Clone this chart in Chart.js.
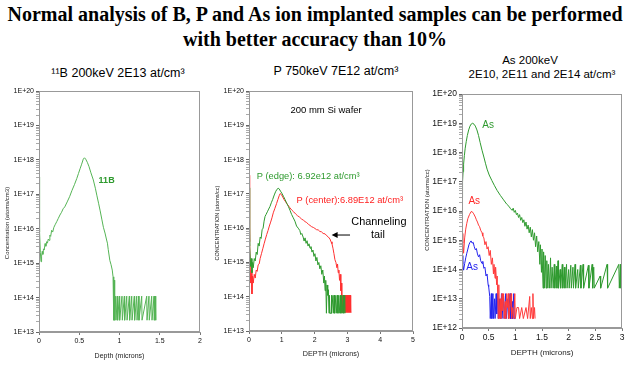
<!DOCTYPE html>
<html>
<head>
<meta charset="utf-8">
<script src="https://cdn.jsdelivr.net/npm/chart.js@4.4.1/dist/chart.umd.min.js"></script>
<style>
  html, body { margin:0; padding:0; background:#fff; }
  #page { position:relative; width:630px; height:372px; overflow:hidden; background:#fff; font-family:"Liberation Sans", Arial, sans-serif; }
  .main { position:absolute; left:0; top:2px; width:630px; text-align:center; font:bold 20px "Liberation Serif", "Times New Roman", serif; line-height:25px; color:#000; white-space:nowrap; }
  .sub { position:absolute; text-align:center; white-space:nowrap; color:#000; font-family:"Liberation Sans", Arial, sans-serif; transform:translateX(-50%); }
  canvas { position:absolute; top:60px; }
</style>
</head>
<body>
<div id="page">
  <div class="main">Normal analysis of B, P and As ion implanted samples can be performed<br>with better accuracy than 10%</div>
  <div class="sub" style="left:118px; top:66px; font-size:12.5px; line-height:15px;">¹¹B 200keV 2E13 at/cm³</div>
  <div class="sub" style="left:336px; top:64px; font-size:12.5px; line-height:15px;">P 750keV 7E12 at/cm³</div>
  <div class="sub" style="left:530px; top:53px; font-size:11.5px; line-height:14px;">As 200keV</div>
  <div class="sub" style="left:542px; top:67px; font-size:11.5px; line-height:14px;">2E10, 2E11 and 2E14 at/cm³</div>
  <canvas id="cB" width="210" height="312" style="left:0px"></canvas>
  <canvas id="cP" width="210" height="312" style="left:210px"></canvas>
  <canvas id="cAs" width="210" height="312" style="left:420px"></canvas>
</div>
<script>
// ---------- DATA (depth in microns, concentration in atoms/cm3) ----------
const bDecades = [13, 14, 15, 16, 17, 18, 19, 20];
const bYLabels = ['1E+13','1E+14','1E+15','1E+16','1E+17','1E+18','1E+19','1E+20'];
const bXLabels = ['0','0.5','1','1.5','2'];
const boron11 = [
  [0,3.2e17],[0.004,8e16],[0.01,8e15],[0.017,2e15],[0.025,1.1e15],[0.032,1.6e15],[0.04,2.2e15],[0.048,1.8e15],
  [0.056,2.6e15],[0.065,2.4e15],[0.075,3.7e15],[0.085,3.1e15],[0.095,4.2e15],[0.105,3.8e15],[0.115,5e15],[0.125,4.6e15],
  [0.135,6.5e15],[0.145,6e15],[0.157,9e15],[0.17,8e15],[0.185,1.1e16],[0.2,1.3e16],[0.22,1.6e16],[0.24,2e16],
  [0.26,2.5e16],[0.28,3e16],[0.3,3.8e16],[0.32,4.3e16],[0.35,6e16],[0.38,8.5e16],[0.41,1.3e17],[0.44,1.9e17],
  [0.47,2.9e17],[0.49,4e17],[0.51,5.5e17],[0.53,7.5e17],[0.55,1.05e18],[0.565,1.15e18],[0.58,1.05e18],[0.6,8.5e17],
  [0.62,6.5e17],[0.645,4.2e17],[0.675,2.6e17],[0.7,1.5e17],[0.72,9e16],[0.74,5.5e16],[0.76,3.3e16],[0.78,1.9e16],
  [0.8,1.1e16],[0.82,7.5e15],[0.84,4.7e15],[0.85,3.8e15],[0.86,2.5e15],[0.88,1.2e15],[0.895,9e14],[0.91,6.3e14],
  [0.92,4e14],[0.927,3.2e14],[0.93,2.2e13],[0.936,3.2e14],[0.94,2.2e13],[0.953,1.1e14],[0.957,2.2e13],[0.973,1.1e14],
  [0.977,2.2e13],[0.998,1.1e14],[1.002,2.2e13],[1.031,1.1e14],[1.035,2.2e13],[1.06,1.1e14],[1.064,2.2e13],[1.09,1.1e14],
  [1.094,2.2e13],[1.122,1.1e14],[1.126,2.2e13],[1.152,1.1e14],[1.156,2.2e13],[1.184,1.1e14],[1.188,2.2e13],[1.214,1.1e14],
  [1.218,2.2e13],[1.238,1.1e14],[1.242,2.2e13],[1.276,1.1e14],[1.28,2.2e13],[1.338,1.1e14],[1.342,2.2e13],[1.366,1.1e14],
  [1.37,2.2e13],[1.4,1.1e14],[1.404,2.2e13],[1.429,1.1e14],[1.433,2.2e13],[1.445,1.1e14],[1.45,2.2e13]
];

const pDecades = [13, 14, 15, 16, 17, 18, 19, 20];
const pYLabels = ['1E+13','1E+14','1E+15','1E+16','1E+17','1E+18','1E+19','1E+20'];
const pXLabels = ['0','1','2','3','4','5'];
const pEdge = [
  [0,1.5e17],[0.01,3e16],[0.03,3e15],[0.05,7.6e14],[0.07,1.3e15],[0.09,5e14],[0.11,1e15],[0.13,7e14],[0.16,1.3e15],
  [0.19,1.1e15],[0.22,2e15],[0.25,1.7e15],[0.28,3.6e15],[0.31,3e15],[0.34,5.5e15],[0.37,5e15],[0.4,9e15],[0.43,1e16],
  [0.46,1.6e16],[0.49,2.2e16],[0.52,2.5e16],[0.56,3e16],[0.6,3.6e16],[0.64,4.3e16],[0.68,5.5e16],[0.72,6.8e16],
  [0.77,9.3e16],[0.81,1.15e17],[0.85,1.35e17],[0.89,1.45e17],[0.92,1.4e17],[0.96,1.2e17],[1.0,1.05e17],[1.05,8.5e16],
  [1.1,6.8e16],[1.15,5.3e16],[1.2,4.3e16],[1.25,3.3e16],[1.3,2.5e16],[1.35,2e16],[1.4,1.6e16],[1.45,1.15e16],
  [1.5,1e16],[1.55,8.5e15],[1.58,6.5e15],[1.61,7e15],[1.65,5.5e15],[1.68,4.2e15],[1.71,5.2e15],[1.74,3.6e15],
  [1.77,4.3e15],[1.8,3e15],[1.83,3.5e15],[1.86,2.6e15],[1.89,2.9e15],[1.92,2e15],[1.95,2.3e15],[1.98,1.5e15],
  [2.01,1.8e15],[2.04,1.1e15],[2.07,1.4e15],[2.1,8.5e14],[2.13,1e15],[2.16,6.5e14],[2.19,8e14],[2.22,4.5e14],
  [2.25,6e14],[2.28,2.5e14],[2.3,4e14],[2.32,1.5e14],[2.34,3e14],[2.36,3.3e13],[2.38,2.2e14],[2.4,1.1e14],
  [2.42,1.6e14],[2.44,3.3e13],[2.45,1.1e14],[2.47,3.3e13],[2.5,3.3e13],[2.51,1.1e14],[2.52,3.3e13],[2.56,1.1e14],
  [2.57,3.3e13],[2.6,1.1e14],[2.61,3.3e13],[2.65,1.1e14],[2.66,3.3e13],[2.7,1.1e14],[2.71,3.3e13],[2.74,1.1e14],
  [2.75,3.3e13],[2.79,1.1e14],[2.8,3.3e13],[2.83,1.1e14],[2.84,3.3e13],[2.88,1.1e14],[2.89,3.3e13],[2.92,1.1e14],
  [2.93,3.3e13],[2.95,3.3e13]
];
const pCenter = [
  [0,3.5e17],[0.01,6e16],[0.03,4e15],[0.05,2.5e14],[0.07,6e14],[0.09,1.2e14],[0.11,4e14],[0.13,2.5e14],[0.16,4.5e14],
  [0.19,3.5e14],[0.22,6e14],[0.25,5.5e14],[0.28,8.5e14],[0.31,9e14],[0.34,1.3e15],[0.38,1.8e15],[0.42,2.5e15],
  [0.46,3.5e15],[0.5,4.8e15],[0.54,6.5e15],[0.58,8.5e15],[0.62,1.15e16],[0.66,1.5e16],[0.7,2e16],[0.74,2.8e16],
  [0.79,3.8e16],[0.84,5.2e16],[0.88,6.8e16],[0.92,8.8e16],[0.95,1.02e17],[0.99,9.5e16],[1.03,8e16],[1.07,6.8e16],
  [1.12,5.8e16],[1.18,4.8e16],[1.24,4e16],[1.3,3.4e16],[1.36,3e16],[1.42,2.6e16],[1.48,2.3e16],[1.54,2.1e16],
  [1.6,1.85e16],[1.66,1.7e16],[1.71,1.55e16],[1.76,1.45e16],[1.81,1.3e16],[1.86,1.2e16],[1.91,1.1e16],[1.96,1.05e16],
  [2.01,9.8e15],[2.06,9e15],[2.11,8.9e15],[2.16,8e15],[2.21,7.8e15],[2.26,7e15],[2.32,6.8e15],[2.37,6e15],
  [2.42,5.5e15],[2.47,4.8e15],[2.5,4e15],[2.53,3.5e15],[2.56,2.6e15],[2.59,1.8e15],[2.62,1.2e15],[2.65,1e15],
  [2.68,7e14],[2.7,9e14],[2.72,5e14],[2.74,6e14],[2.76,3e14],[2.78,4.5e14],[2.8,1.5e14],[2.82,2.5e14],
  [2.83,3.5e13],[2.85,1.1e14],[2.86,3.5e13],[2.88,1.1e14],[2.89,3.5e13],[2.91,1.1e14],[2.92,3.5e13],[2.94,1.1e14],
  [2.95,3.5e13],[2.97,1.1e14],[2.98,3.5e13],[3.0,1.1e14],[3.01,3.5e13],[3.03,1.1e14],[3.04,3.5e13],[3.06,1.1e14],
  [3.07,3.5e13],[3.09,1.1e14],[3.1,3.5e13],[3.12,3.5e13]
];

const asDecades = [12, 13, 14, 15, 16, 17, 18, 19, 20];
const asYLabels = ['1E+12','1E+13','1E+14','1E+15','1E+16','1E+17','1E+18','1E+19','1E+20'];
const asXLabels = ['0','0.5','1','1.5','2','2.5','3'];
const as2E14 = [
  [0,3e16],[0.01,1e17],[0.02,2.2e17],[0.03,4e17],[0.045,8e17],[0.06,1.4e18],[0.08,2.4e18],[0.1,3.8e18],[0.125,5.9e18],
  [0.15,8e18],[0.175,9.5e18],[0.2,1e19],[0.225,9.3e18],[0.25,8e18],[0.28,5.9e18],[0.31,3.8e18],[0.34,2.2e18],
  [0.375,1.2e18],[0.41,7e17],[0.44,4.3e17],[0.47,2.7e17],[0.51,1.7e17],[0.56,1.1e17],[0.61,7.3e16],[0.66,5e16],
  [0.72,3.4e16],[0.78,2.4e16],[0.84,1.7e16],[0.88,1.45e16],[0.91,1.2e16],[0.94,1.05e16],[0.96,1.25e16],[0.98,9e15],
  [1.0,1.05e16],[1.02,7.5e15],[1.04,8.5e15],[1.06,6e15],[1.08,7.5e15],[1.1,4.8e15],[1.12,6e15],[1.14,4e15],
  [1.16,5e15],[1.18,3e15],[1.2,4.2e15],[1.22,2.4e15],[1.24,3.3e15],[1.26,1.8e15],[1.28,2.8e15],[1.3,1.3e15],
  [1.32,2.3e15],[1.34,1e15],[1.36,1.8e15],[1.38,6e14],[1.4,1.4e15],[1.42,4e14],[1.44,9e14],[1.46,1.5e14],
  [1.47,7e14],[1.49,8e13],[1.5,5e14],[1.52,2.3e13],[1.53,4e14],[1.55,2.3e13],[1.56,3e14],[1.58,2.3e13],
  [1.59,2e14],[1.61,2.3e13],[1.62,1.5e14],[1.64,2.3e13],[1.66,2.5e14],[1.67,2.3e13],[1.69,1.2e14],[1.71,2.3e13],
  [1.73,1.5e14],[1.74,2.3e13],[1.77,1.3e14],[1.78,2.3e13],[1.8,2e14],[1.81,2.3e13],[1.84,1e14],[1.85,2.3e13],
  [1.88,1.5e14],[1.89,2.3e13],[1.92,1.2e14],[1.93,2.3e13],[1.96,1.5e14],[1.97,2.3e13],[2.0,1e14],[2.01,2.3e13],
  [2.04,1.4e14],[2.05,2.3e13],[2.08,1.2e14],[2.09,2.3e13],[2.12,1.5e14],[2.13,2.3e13],[2.17,1e14],[2.18,2.3e13],
  [2.22,1.4e14],[2.23,2.3e13],[2.27,1.5e14],[2.28,2.3e13],[2.37,1.4e14],[2.38,2.3e13],[2.44,1.5e14],[2.45,2.3e13],
  [2.47,1.2e14],[2.48,2.3e13],[2.59,6e13],[2.6,2.3e13],[2.72,1.5e14],[2.73,2.3e13],[2.94,1.5e14],[2.95,2.3e13],
  [2.97,1.5e14],[2.98,2.3e13],[3.0,1.5e14]
];
const as2E11 = [
  [0,1.7e15],[0.015,8e14],[0.03,3.6e14],[0.05,1.2e15],[0.07,2.4e15],[0.09,3.8e15],[0.11,5.5e15],[0.14,7.5e15],
  [0.17,9.5e15],[0.19,9.5e15],[0.22,8e15],[0.25,6.2e15],[0.27,5e15],[0.29,4.2e15],[0.31,3.3e15],[0.33,2.9e15],
  [0.35,2.2e15],[0.375,1.8e15],[0.39,1.4e15],[0.41,1.2e15],[0.43,7e14],[0.45,9e14],[0.47,5e14],[0.49,6e14],
  [0.51,3e14],[0.53,4.5e14],[0.55,1.5e14],[0.57,2.5e14],[0.59,7e13],[0.6,1.5e14],[0.62,5e13],[0.63,1.2e14],
  [0.65,3e13],[0.66,6e13],[0.68,2.1e12],[0.69,3e13],[0.7,2.1e12],[0.72,1e13],[0.73,2.1e12],[0.75,1.5e13],
  [0.76,4e12],[0.78,1.5e13],[0.79,2.1e12],[0.81,8e12],[0.82,2.1e12],[0.84,1.5e13],[0.85,5e12],[0.87,1.5e13],
  [0.88,2.1e12],[0.9,5e12],[0.92,1.5e13],[0.93,2.1e12],[0.95,5e12],[0.97,2.1e12],[0.99,1.5e13],[1.0,2.1e12],
  [1.03,5e12],[1.06,5e12],[1.08,2.1e12],[1.12,5e12],[1.15,2.1e12],[1.2,5e12],[1.23,2.1e12],[1.27,1.2e13],
  [1.28,2.1e12],[1.3,5e12],[1.32,2.1e12],[1.33,1.5e13],[1.34,2.1e12],[1.36,5e12],[1.37,2.1e12]
];
const as2E10 = [
  [0,3e14],[0.015,1.5e14],[0.03,9.5e13],[0.05,1.6e14],[0.07,2.5e14],[0.09,3.6e14],[0.11,5e14],[0.13,7e14],
  [0.15,8.5e14],[0.17,9.5e14],[0.19,8e14],[0.21,8.5e14],[0.23,6e14],[0.25,4.7e14],[0.27,5.2e14],[0.29,3.4e14],
  [0.31,2.7e14],[0.33,3.2e14],[0.35,2e14],[0.375,1.6e14],[0.39,1.9e14],[0.41,1.1e14],[0.43,1.2e14],[0.45,6e13],
  [0.47,7e13],[0.49,3e13],[0.5,2.6e13],[0.52,1.2e13],[0.53,2.1e12],[0.55,1.5e13],[0.56,2.1e12],[0.58,1.5e13],
  [0.59,2.1e12],[0.61,1e13],[0.62,2.1e12],[0.64,1.5e13],[0.65,3e12],[0.67,1.5e13],[0.68,2.1e12],[0.7,1e13],
  [0.72,2.1e12],[0.74,1.5e13],[0.75,2.1e12],[0.78,1.2e13],[0.79,2.1e12],[0.82,1.5e13],[0.83,2.1e12],[0.86,1e13],
  [0.87,2.1e12],[0.9,1.5e13],[0.91,2.1e12],[0.94,8e12],[0.95,2.1e12],[0.97,1.5e13],[0.98,2.1e12],[1.0,2.1e12]
];

// ---------- helpers ----------
const FONT = '"Liberation Sans", Arial, sans-serif';
Chart.defaults.font.family = FONT;

const framePlugin = {
  id: 'frame',
  afterDraw(chart) {
    const a = chart.chartArea, ctx = chart.ctx;
    ctx.save();
    ctx.strokeStyle = '#999';
    ctx.lineWidth = 1;
    ctx.strokeRect(Math.round(a.left) + 0.5, Math.round(a.top) + 0.5,
                   Math.round(a.right) - Math.round(a.left) - 1, Math.round(a.bottom) - Math.round(a.top) - 1);
    ctx.restore();
  }
};

const notesPlugin = {
  id: 'notes',
  afterDatasetsDraw(chart, args, opts) {
    const ctx = chart.ctx, xs = chart.scales.x, ys = chart.scales.y;
    ctx.save();
    (opts.notes || []).forEach(n => {
      ctx.font = (n.bold ? 'bold ' : '') + n.size + 'px ' + FONT;
      ctx.fillStyle = n.color;
      ctx.textAlign = n.align || 'center';
      ctx.textBaseline = 'middle';
      ctx.fillText(n.text, xs.getPixelForValue(n.x), ys.getPixelForValue(n.y));
    });
    (opts.arrows || []).forEach(ar => {
      const x1 = xs.getPixelForValue(ar.x1), x2 = xs.getPixelForValue(ar.x2), y = ys.getPixelForValue(ar.y);
      ctx.strokeStyle = '#000'; ctx.fillStyle = '#000'; ctx.lineWidth = 1;
      ctx.beginPath(); ctx.moveTo(x1, y); ctx.lineTo(x2 + 4, y); ctx.stroke();
      ctx.beginPath(); ctx.moveTo(x2, y); ctx.lineTo(x2 + 6, y - 3); ctx.lineTo(x2 + 6, y + 3); ctx.closePath(); ctx.fill();
    });
    ctx.restore();
  },
  afterDraw(chart, args, opts) {
    const t = opts.yTitle;
    if (!t) return;
    const ctx = chart.ctx;
    ctx.save();
    ctx.translate(t.cx, t.cy);
    ctx.rotate(-Math.PI / 2);
    ctx.font = t.size + 'px ' + FONT;
    ctx.fillStyle = '#222';
    ctx.textAlign = 'center';
    ctx.textBaseline = 'middle';
    ctx.fillText(t.text, 0, 0);
    ctx.restore();
  }
};

function makeChart(id, c) {
  const exps = c.decades;
  return new Chart(document.getElementById(id), {
    type: 'scatter',
    data: {
      datasets: c.series.map(s => ({
        data: s.pts.map(p => ({ x: p[0], y: p[1] })),
        borderColor: s.color, backgroundColor: s.color,
        borderWidth: 1, showLine: true, pointRadius: 0, tension: 0, fill: false
      }))
    },
    options: {
      responsive: false, animation: false, devicePixelRatio: 1,
      layout: { padding: { top: c.top, right: c.right, left: 0, bottom: 0 } },
      plugins: {
        legend: { display: false }, tooltip: { enabled: false },
        notes: { notes: c.notes, arrows: c.arrows || [], yTitle: c.yTitle }
      },
      scales: {
        x: {
          type: 'linear', position: 'bottom', min: 0, max: c.xMax,
          ticks: { stepSize: c.xStep, autoSkip: false, maxRotation: 0, padding: 2, color: '#111',
                   font: { size: c.tickSize }, callback: (v, i) => c.xLabels[i] },
          grid: { drawOnChartArea: false, drawTicks: true, tickLength: 3, tickColor: '#777' },
          border: { color: '#999' },
          title: { display: true, text: c.xTitle, color: '#222', font: { size: c.xTitleSize },
                   padding: { top: 0, bottom: c.xTitlePad } },
          afterFit: s => { s.height = c.xAxisH; }
        },
        y: {
          type: 'logarithmic', position: 'left',
          min: Math.pow(10, exps[0]), max: Math.pow(10, exps[exps.length - 1]),
          afterBuildTicks: s => {
            const t = [];
            exps.forEach((e, k) => {
              const last = k === exps.length - 1;
              for (let m = 1; m <= (last ? 1 : 9); m++) t.push({ value: m * Math.pow(10, e), major: m === 1 });
            });
            s.ticks = t;
          },
          ticks: { autoSkip: false, padding: 2, color: '#111', font: { size: c.tickSize },
                   callback: v => {
                     const e = Math.round(Math.log10(v));
                     return Math.abs(v - Math.pow(10, e)) < 1e-6 * v ? c.yLabels[exps.indexOf(e)] : '';
                   } },
          grid: { drawOnChartArea: false, drawTicks: true, tickLength: 3,
                  tickColor: ctx => (ctx.tick && ctx.tick.major) ? '#666' : '#aaa' },
          border: { color: '#999' },
          afterFit: s => { s.width = c.yAxisW; }
        }
      }
    },
    plugins: [framePlugin, notesPlugin]
  });
}

makeChart('cB', {
  decades: bDecades, yLabels: bYLabels, xLabels: bXLabels, xMax: 2, xStep: 0.5,
  top: 31, right: 10, yAxisW: 39, xAxisH: 40, tickSize: 7,
  xTitle: 'Depth (microns)', xTitleSize: 7, xTitlePad: 11.5,
  yTitle: { text: 'Concentration (atoms/cm3)', cx: 7, cy: 163, size: 6 },
  series: [{ pts: boron11, color: '#55b455' }],
  notes: [{ text: '11B', x: 0.84, y: 2.5e17, size: 9, bold: true, color: '#2e9a2e' }]
});

makeChart('cP', {
  decades: pDecades, yLabels: pYLabels, xLabels: pXLabels, xMax: 5, xStep: 1,
  top: 31, right: 7, yAxisW: 39, xAxisH: 41, tickSize: 7,
  xTitle: 'DEPTH (microns)', xTitleSize: 7.2, xTitlePad: 13.5,
  yTitle: { text: 'CONCENTRATION (atoms/cc)', cx: 7, cy: 163, size: 5.5 },
  series: [{ pts: pEdge, color: '#2e9a2e' }, { pts: pCenter, color: '#ff3030' }],
  notes: [
    { text: '200 mm Si wafer', x: 2.35, y: 2.67e19, size: 9.5, color: '#000' },
    { text: 'P (edge): 6.92e12 at/cm³', x: 0.235, y: 3.2e17, size: 9.3, color: '#2e9a2e', align: 'left' },
    { text: 'P (center):6.89E12 at/cm³', x: 1.45, y: 6.6e16, size: 9.3, color: '#ff2020', align: 'left' },
    { text: 'Channeling', x: 3.96, y: 1.55e16, size: 10.9, color: '#000' },
    { text: 'tail', x: 3.93, y: 6.3e15, size: 10.9, color: '#000' }
  ],
  arrows: [{ x1: 3.08, x2: 2.52, y: 6.3e15 }]
});

makeChart('cAs', {
  decades: asDecades, yLabels: asYLabels, xLabels: asXLabels, xMax: 3, xStep: 0.5,
  top: 34, right: 8, yAxisW: 42, xAxisH: 44, tickSize: 8.5,
  xTitle: 'DEPTH (microns)', xTitleSize: 8, xTitlePad: 14.2,
  yTitle: { text: 'CONCENTRATION (atoms/cc)', cx: 7, cy: 150, size: 6 },
  series: [{ pts: as2E14, color: '#2f9a2f' }, { pts: as2E11, color: '#ff3a3a' }, { pts: as2E10, color: '#2323ee' }],
  notes: [
    { text: 'As', x: 0.49, y: 8.3e18, size: 10, color: '#2f9a2f' },
    { text: 'As', x: 0.23, y: 2.2e16, size: 10, color: '#ff2a2a' },
    { text: 'As', x: 0.19, y: 1.2e14, size: 10, color: '#2323ee' }
  ]
});
</script>
</body>
</html>
